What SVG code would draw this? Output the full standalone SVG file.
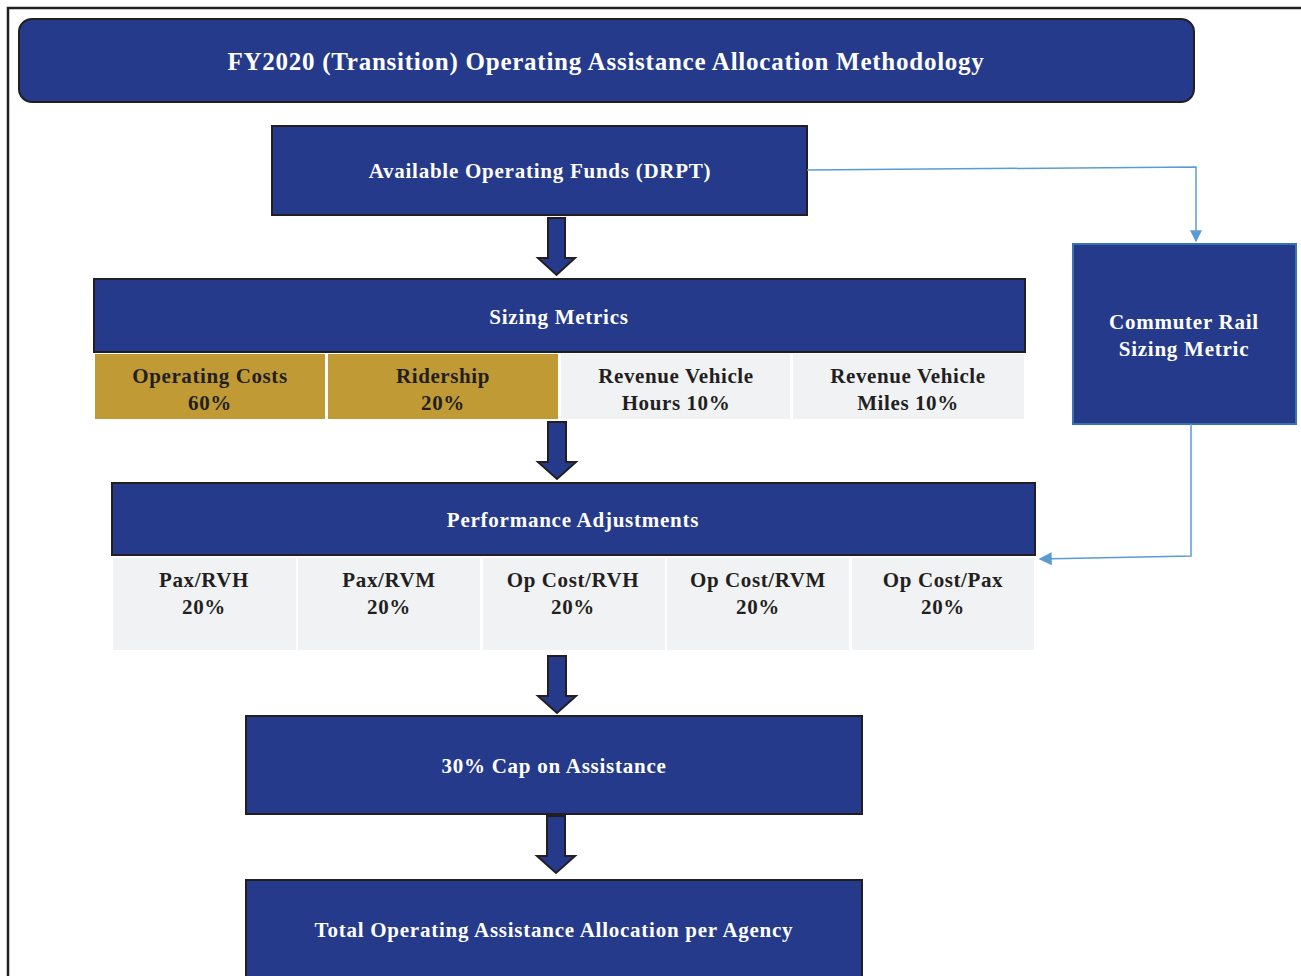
<svg xmlns="http://www.w3.org/2000/svg" width="1301" height="976" viewBox="0 0 1301 976">
<defs>
<style>
.box{fill:#253a8b;stroke:#231f20;stroke-width:2}
.cr{fill:#253a8b;stroke:#3a72b0;stroke-width:2}
.gold{fill:#c09a34}
.grey{fill:#f1f2f4}
.wt{font-family:"Liberation Serif",serif;font-weight:bold;fill:#ffffff;text-anchor:middle;letter-spacing:0.75px}
.dt{font-family:"Liberation Serif",serif;font-weight:bold;fill:#231f20;text-anchor:middle;font-size:21px;letter-spacing:0.6px}
.fat{fill:#253a8b;stroke:#231f20;stroke-width:2;stroke-linejoin:miter}
.conn{fill:none;stroke:#5b9bd5;stroke-width:1.5}
</style>
<marker id="ah" viewBox="0 0 10 10" refX="9" refY="5" markerWidth="12" markerHeight="12" markerUnits="userSpaceOnUse" orient="auto">
<path d="M0,0 L10,5 L0,10 z" fill="#5b9bd5"/>
</marker>
<marker id="ah2" viewBox="0 0 10 10" refX="9" refY="5" markerWidth="13" markerHeight="13" markerUnits="userSpaceOnUse" orient="auto">
<path d="M0,0 L10,5 L0,10 z" fill="#5b9bd5"/>
</marker>
</defs>
<rect x="0" y="0" width="1301" height="976" fill="#ffffff"/>
<path d="M8,990 L8,8 L1310,8" fill="none" stroke="#231f20" stroke-width="2.5"/>

<g id="title">
<rect x="19" y="19" width="1175" height="83" rx="13" class="box"/>
<text x="606" y="70" class="wt" font-size="25">FY2020 (Transition) Operating Assistance Allocation Methodology</text>
</g>

<g id="available">
<rect x="272" y="126" width="535" height="89" class="box"/>
<text x="540" y="178" class="wt" font-size="21">Available Operating Funds (DRPT)</text>
</g>

<g id="sizing">
<rect x="94" y="279" width="931" height="73" class="box"/>
<text x="559" y="324" class="wt" font-size="21">Sizing Metrics</text>
<rect x="95" y="354" width="230" height="65" class="gold"/>
<rect x="328" y="354" width="230" height="65" class="gold"/>
<rect x="561" y="354" width="229" height="65" class="grey"/>
<rect x="793" y="354" width="231" height="65" class="grey"/>
<text class="dt"><tspan x="210" y="383">Operating Costs</tspan><tspan x="210" y="410">60%</tspan></text>
<text class="dt"><tspan x="443" y="383">Ridership</tspan><tspan x="443" y="410">20%</tspan></text>
<text class="dt"><tspan x="676" y="383">Revenue Vehicle</tspan><tspan x="676" y="410">Hours 10%</tspan></text>
<text class="dt"><tspan x="908" y="383">Revenue Vehicle</tspan><tspan x="908" y="410">Miles 10%</tspan></text>
</g>

<g id="commuter">
<rect x="1073" y="244" width="223" height="180" class="cr"/>
<text class="wt" font-size="21"><tspan x="1184" y="329">Commuter Rail</tspan><tspan x="1184" y="356">Sizing Metric</tspan></text>
</g>

<g id="performance">
<rect x="112" y="483" width="923" height="72" class="box"/>
<text x="573" y="527" class="wt" font-size="21">Performance Adjustments</text>
<rect x="113" y="558" width="183" height="92" class="grey"/>
<rect x="298" y="558" width="182" height="92" class="grey"/>
<rect x="483" y="558" width="182" height="92" class="grey"/>
<rect x="667" y="558" width="182" height="92" class="grey"/>
<rect x="852" y="558" width="182" height="92" class="grey"/>
<text class="dt"><tspan x="204" y="587">Pax/RVH</tspan><tspan x="204" y="614">20%</tspan></text>
<text class="dt"><tspan x="389" y="587">Pax/RVM</tspan><tspan x="389" y="614">20%</tspan></text>
<text class="dt"><tspan x="573" y="587">Op Cost/RVH</tspan><tspan x="573" y="614">20%</tspan></text>
<text class="dt"><tspan x="758" y="587">Op Cost/RVM</tspan><tspan x="758" y="614">20%</tspan></text>
<text class="dt"><tspan x="943" y="587">Op Cost/Pax</tspan><tspan x="943" y="614">20%</tspan></text>
</g>

<g id="cap">
<rect x="246" y="716" width="616" height="98" class="box"/>
<text x="554" y="773" class="wt" font-size="21">30% Cap on Assistance</text>
</g>

<g id="total">
<rect x="246" y="880" width="616" height="110" class="box"/>
<text x="554" y="937" class="wt" font-size="21">Total Operating Assistance Allocation per Agency</text>
</g>

<g id="connectors">
<path class="fat" d="M548,218 H565 V258 H575 L556.5,275 L538,258 H548 Z"/>
<path class="fat" d="M548,422 H566 V462 H576 L557,479 L538,462 H548 Z"/>
<path class="fat" d="M548,656 H566 V696 H576 L557,713 L538,696 H548 Z"/>
<path class="fat" d="M547,816 H565 V856 H575 L556,873 L537,856 H547 Z"/>
<path class="conn" d="M807,170 L1196,167 L1196,241" marker-end="url(#ah)"/>
<path class="conn" d="M1191,424 L1191,556 L1040,559" marker-end="url(#ah2)"/>
</g>
</svg>
